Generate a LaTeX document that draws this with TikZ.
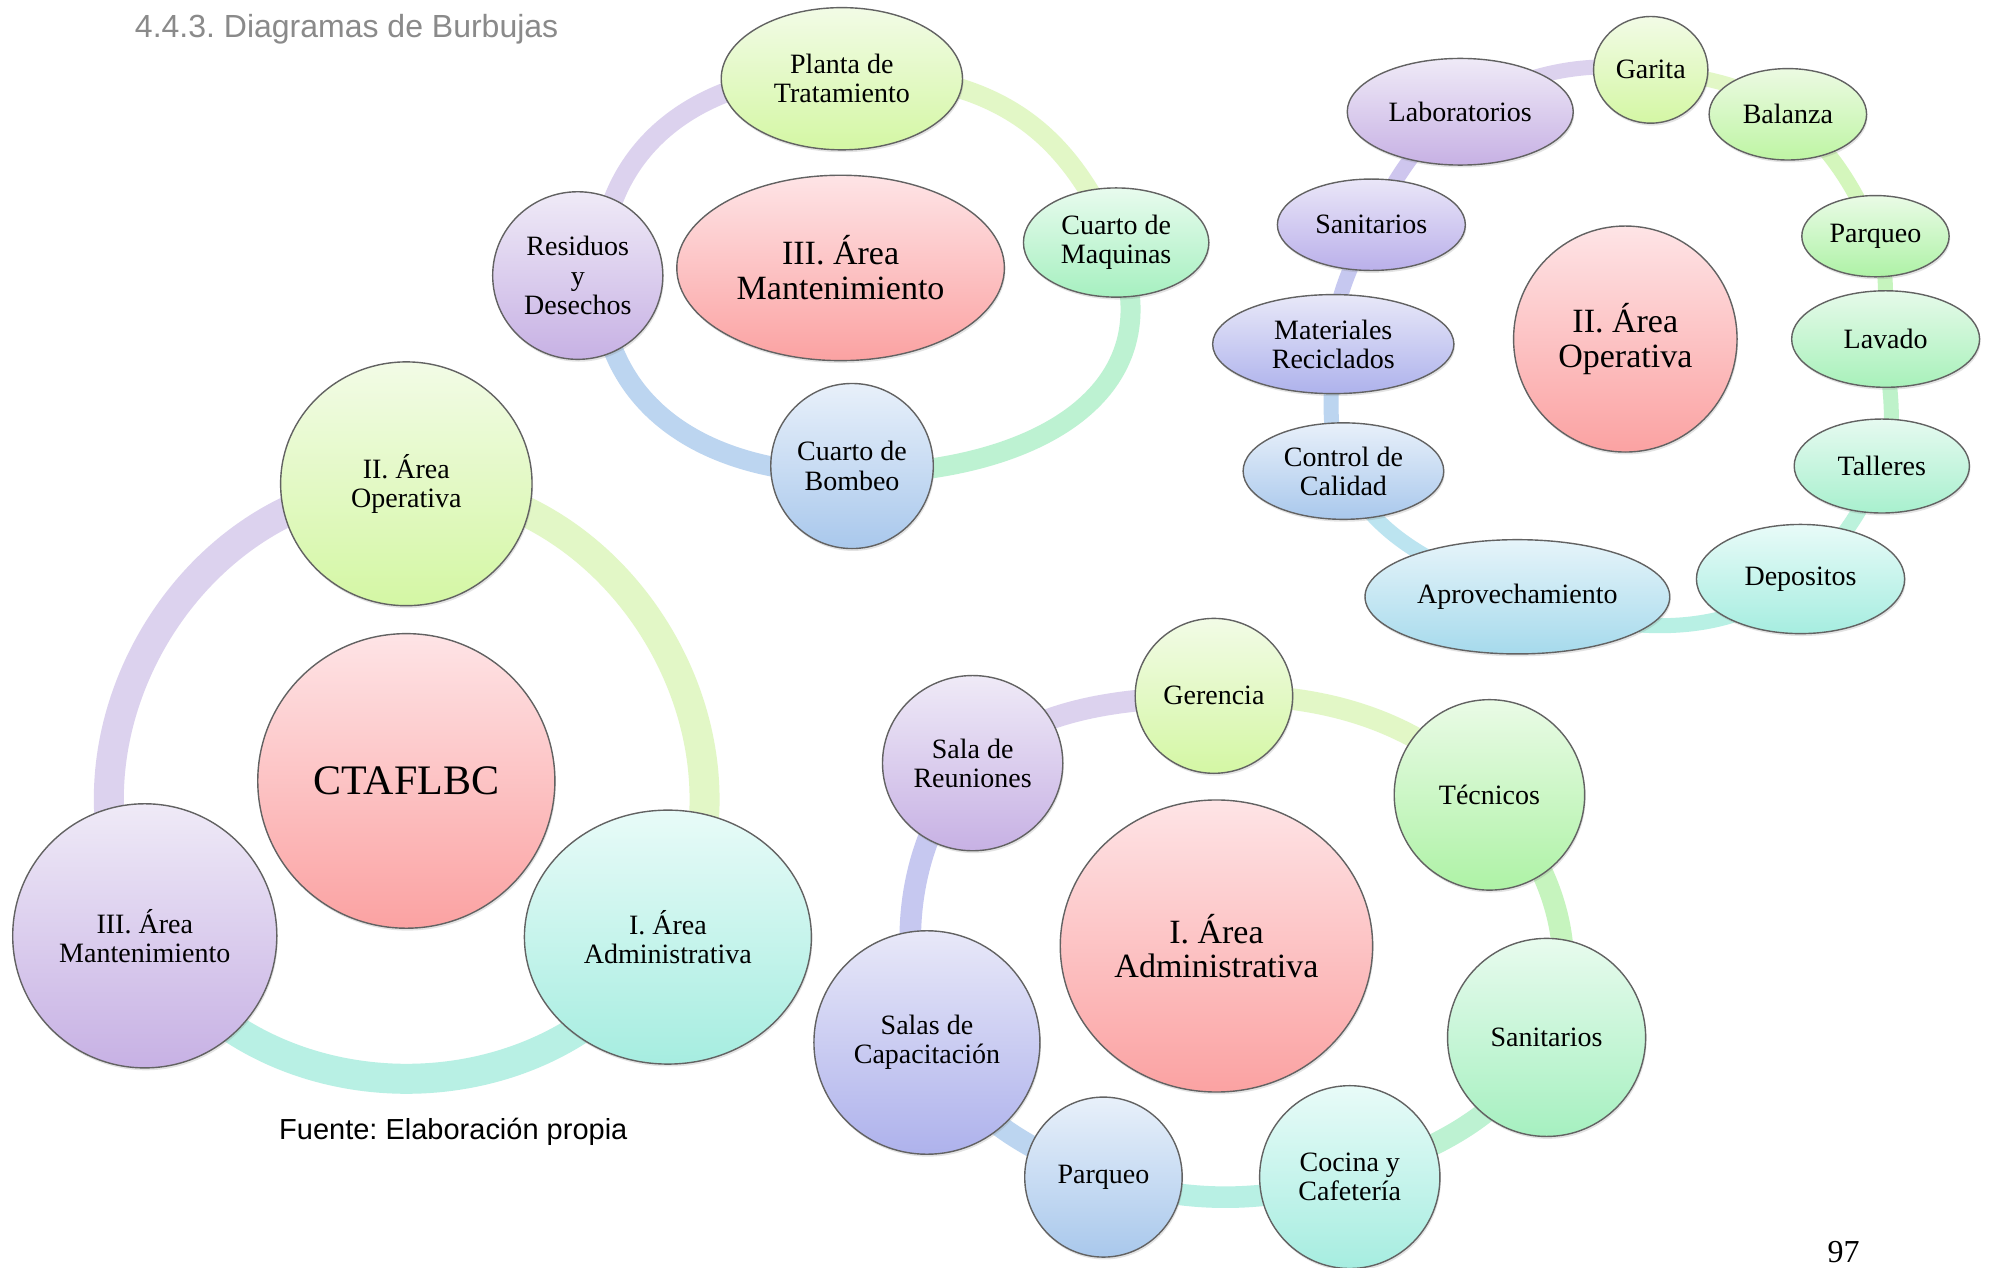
\documentclass[tikz,border=0pt]{standalone}
\usepackage{fontspec}
\setmainfont{Liberation Serif}
\newfontfamily\arialfont{Liberation Sans}
\usetikzlibrary{shapes.geometric,shadows}
\pgfdeclarelayer{bg}
\pgfdeclarelayer{paper}
\pgfsetlayers{paper,bg,main}
\frenchspacing
% node fills (top / bottom)
\definecolor{ygT}{HTML}{F2FBE6}\definecolor{ygB}{HTML}{D4F7A4}
\definecolor{puT}{HTML}{EFEAF7}\definecolor{puB}{HTML}{C7B1E4}
\definecolor{aqT}{HTML}{E8FBF8}\definecolor{aqB}{HTML}{A6EDE0}
\definecolor{miT}{HTML}{E8FBEE}\definecolor{miB}{HTML}{A6F0C0}
\definecolor{grT}{HTML}{EAFBE6}\definecolor{grB}{HTML}{AEF2A6}
\definecolor{blT}{HTML}{E8F0FA}\definecolor{blB}{HTML}{A9C8EC}
\definecolor{bvT}{HTML}{E8E8F8}\definecolor{bvB}{HTML}{AEB2EC}
\definecolor{cbT}{HTML}{E6F4FA}\definecolor{cbB}{HTML}{A6DAEC}
\definecolor{pkT}{HTML}{FEE4E6}\definecolor{pkB}{HTML}{FBA2A2}
\definecolor{baT}{HTML}{ECFAE2}\definecolor{baB}{HTML}{BEF5A4}
\definecolor{lvT}{HTML}{E6FAEA}\definecolor{lvB}{HTML}{A8F1BA}
\definecolor{tlT}{HTML}{E6FAF0}\definecolor{tlB}{HTML}{A8F0CE}
\definecolor{viT}{HTML}{EAE6F8}\definecolor{viB}{HTML}{BAB0EA}
% ring colours
\definecolor{rYG}{HTML}{E2F7C6}\definecolor{rPU}{HTML}{DCD2EE}
\definecolor{rAQ}{HTML}{B8F0E4}\definecolor{rMI}{HTML}{BDF2D2}
\definecolor{rGR}{HTML}{C6F4BE}\definecolor{rBL}{HTML}{BCD5F0}
\definecolor{rBV}{HTML}{C6C8F0}\definecolor{rCB}{HTML}{BCE4F0}
\definecolor{rBA}{HTML}{D4F6BC}\definecolor{rLV}{HTML}{BEF2CA}
\definecolor{rTL}{HTML}{BCF2DC}\definecolor{rVI}{HTML}{CEC6EE}
\definecolor{nodeline}{HTML}{626262}
\definecolor{titlegray}{HTML}{8A8A8A}
\newcommand\bubfont{\fontsize{14}{14.6}\selectfont}
\newcommand\hubfont{\fontsize{17}{17.4}\selectfont}
\newcommand\rootfont{\fontsize{21}{22}\selectfont}
\begin{document}
\begin{tikzpicture}[x=0.635pt,y=-0.635pt,
  bub/.style n args={4}{ellipse, draw=nodeline, line width=0.7pt,
    top color=#3, bottom color=#4, inner sep=0pt, align=center, font=\bubfont,
    minimum width={2*#1*0.635pt}, minimum height={2*#2*0.635pt},
    drop shadow={opacity=0.22, shadow xshift=0.5pt, shadow yshift=-1.2pt}},
  seg/.style n args={2}{draw=#1, line width=#2}]
\useasboundingbox (0,0) rectangle (1568,998);
\begin{pgfonlayer}{paper}
\fill[white] (0,0) rectangle (1568,998);
\end{pgfonlayer}

\node[font=\arialfont\fontsize{16}{18}\selectfont, text=titlegray, anchor=west, inner sep=0pt] (title) at (106,23) {4.4.3. Diagramas de Burbujas};

% ---------------- Cluster A
\node[bub={117}{116}{pkT}{pkB}, font=\rootfont] (ctA) at (320,615) {CTAFLBC};
\node[bub={99}{96}{ygT}{ygB}] (opA) at (320,381) {II. Área\\Operativa};
\node[bub={104}{104}{puT}{puB}] (mnA) at (114,737) {III. Área\\Mantenimiento};
\node[bub={113}{100}{aqT}{aqB}] (adA) at (526,738) {I. Área\\Administrativa};
\node[font=\arialfont\fontsize{14.5}{16}\selectfont, inner sep=0pt] (fuente) at (357,891) {Fuente: Elaboración propia};

% ---------------- Cluster B
\node[bub={129}{73}{pkT}{pkB}, font=\hubfont] (ctB) at (662,211) {III. Área\\Mantenimiento};
\node[bub={95}{56}{ygT}{ygB}] (plB) at (663,62) {Planta de\\Tratamiento};
\node[bub={73}{43}{miT}{miB}] (maB) at (879,191) {Cuarto de\\Maquinas};
\node[bub={64}{65}{blT}{blB}] (boB) at (671,367) {Cuarto de\\Bombeo};
\node[bub={67}{66}{puT}{puB}] (reB) at (455,217) {Residuos\\y\\Desechos};

% ---------------- Cluster C
\node[bub={88}{89}{pkT}{pkB}, font=\hubfont] (ctC) at (1280,267) {II. Área\\Operativa};
\node[bub={89}{42}{puT}{puB}] (lbC) at (1150,88) {Laboratorios};
\node[bub={45}{42}{ygT}{ygB}] (gaC) at (1300,55) {Garita};
\node[bub={62}{36}{baT}{baB}] (baC) at (1408,90) {Balanza};
\node[bub={58}{32}{grT}{grB}] (paC) at (1477,186) {Parqueo};
\node[bub={74}{38}{lvT}{lvB}] (laC) at (1485,267) {Lavado};
\node[bub={69}{37}{tlT}{tlB}] (taC) at (1482,367) {Talleres};
\node[bub={82}{43}{aqT}{aqB}] (deC) at (1418,456) {Depositos};
\node[bub={120}{45}{cbT}{cbB}] (apC) at (1195,470) {Aprovechamiento};
\node[bub={79}{38}{blT}{blB}] (coC) at (1058,371) {Control de\\Calidad};
\node[bub={95}{39}{bvT}{bvB}] (mtC) at (1050,271) {Materiales\\Reciclados};
\node[bub={74}{36}{viT}{viB}] (saC) at (1080,177) {Sanitarios};

% ---------------- Cluster D
\node[bub={123}{115}{pkT}{pkB}, font=\hubfont] (ctD) at (958,745) {I. Área\\Administrativa};
\node[bub={62}{61}{ygT}{ygB}] (geD) at (956,548) {Gerencia};
\node[bub={75}{75}{grT}{grB}] (teD) at (1173,626) {Técnicos};
\node[bub={78}{78}{miT}{miB}] (saD) at (1218,817) {Sanitarios};
\node[bub={71}{72}{aqT}{aqB}] (cuD) at (1063,927) {Cocina y\\Cafetería};
\node[bub={62}{63}{blT}{blB}] (pkD) at (869,927) {Parqueo};
\node[bub={89}{88}{bvT}{bvB}] (scD) at (730,821) {Salas de\\Capacitación};
\node[bub={71}{69}{puT}{puB}] (srD) at (766,601) {Sala de\\Reuniones};

\node[font=\fontsize{16}{18}\selectfont, inner sep=0pt] (pagenum) at (1452,986) {97};

\begin{pgfonlayer}{bg}
% ring A
\draw[seg={rYG}{15pt}] (opA.center) to[out=0, in=59.8, looseness=1.07] (adA.center);
\draw[seg={rAQ}{15pt}] (adA.center) to[out=-120.2, in=-60.2, looseness=1.07] (mnA.center);
\draw[seg={rPU}{15pt}] (mnA.center) to[out=119.8, in=180, looseness=1.07] (opA.center);
% ring B
\draw[seg={rYG}{10pt}] ([yshift=3pt]plB.center) .. controls +(135,0) and +(-35,-76) .. (maB.center);
\draw[seg={rMI}{10pt}] (maB.center) .. controls +(49,120) and +(140,0) .. ([yshift=-4pt]boB.center);
\draw[seg={rBL}{10pt}] ([yshift=-4pt]boB.center) .. controls +(-120,0) and +(0,100) .. ([xshift=11pt]reB.center);
\draw[seg={rPU}{10pt}] ([xshift=11pt]reB.center) .. controls +(0,-95) and +(-120,0) .. ([yshift=3pt]plB.center);
% ring C
\draw[seg={rYG}{7.5pt}] (gaC.center) to[out=-8, in=142.5, looseness=0.9] (baC.center);
\draw[seg={rBA}{7.5pt}] (baC.center) to[out=-37.5, in=113, looseness=0.9] (paC.center);
\draw[seg={rGR}{7.5pt}] (paC.center) to[out=-67, in=92, looseness=0.9] (laC.center);
\draw[seg={rLV}{7.5pt}] (laC.center) to[out=-88, in=66.4, looseness=0.9] (taC.center);
\draw[seg={rTL}{7.5pt}] (taC.center) to[out=-113.6, in=39.3, looseness=0.9] (deC.center);
\draw[seg={rAQ}{7.5pt}] (deC.center) to[out=-140.7, in=-20.7, looseness=0.92] (apC.center);
\draw[seg={rCB}{7.5pt}] (apC.center) to[out=159.3, in=-65.3, looseness=0.92] (coC.center);
\draw[seg={rBL}{7.5pt}] (coC.center) to[out=114.7, in=-90.8, looseness=0.9] (mtC.center);
\draw[seg={rBV}{7.5pt}] (mtC.center) to[out=89.2, in=-117.2, looseness=0.9] (saC.center);
\draw[seg={rVI}{7.5pt}] (saC.center) to[out=62.8, in=-147.4, looseness=0.9] (lbC.center);
\draw[seg={rPU}{7.5pt}] (lbC.center) to[out=32.6, in=172, looseness=0.92] (gaC.center);
% ring D
\draw[seg={rYG}{10.8pt}] (geD.center) to[out=2.1, in=133.7, looseness=0.92] (teD.center);
\draw[seg={rGR}{10.8pt}] (teD.center) to[out=-46.3, in=64, looseness=0.92] (saD.center);
\draw[seg={rMI}{10.8pt}] (saD.center) to[out=-116, in=17.3, looseness=0.92] (cuD.center);
\draw[seg={rAQ}{10.8pt}] (cuD.center) to[out=-162.7, in=-18, looseness=0.92] (pkD.center);
\draw[seg={rBL}{10.8pt}] (pkD.center) to[out=162, in=-61.8, looseness=0.92] (scD.center);
\draw[seg={rBV}{10.8pt}] (scD.center) to[out=108, in=-130, looseness=0.92] (srD.center);
\draw[seg={rPU}{10.8pt}] (srD.center) to[out=40.3, in=182.1, looseness=0.92] (geD.center);
\end{pgfonlayer}
\end{tikzpicture}
\end{document}
